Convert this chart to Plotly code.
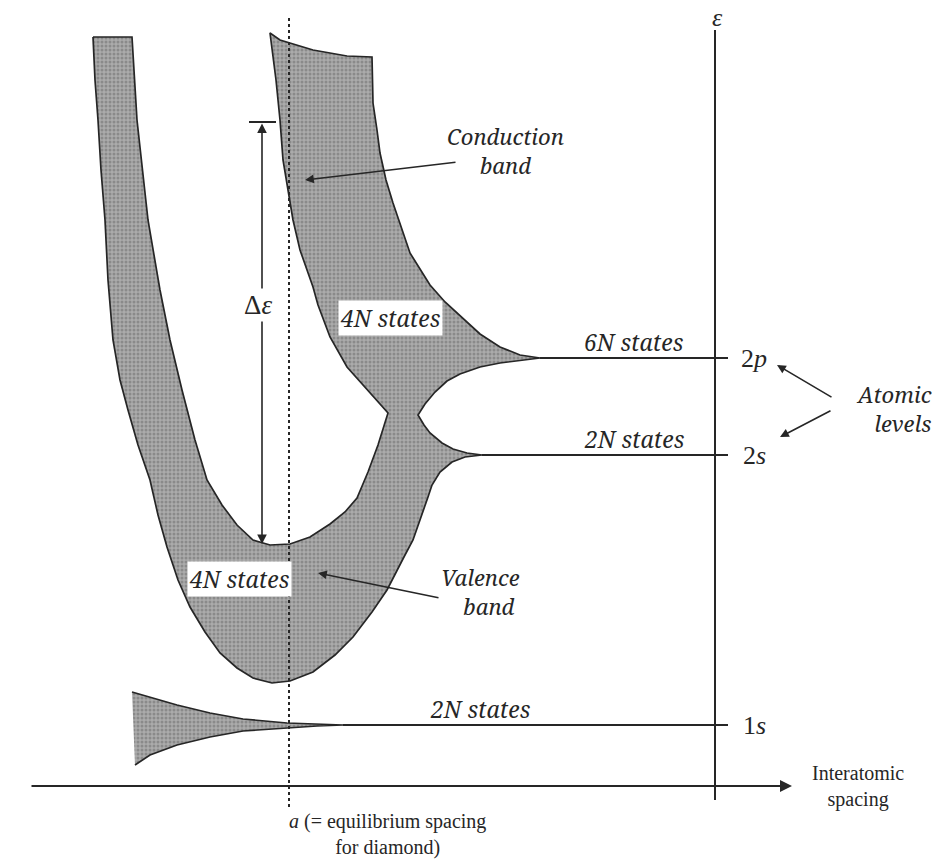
import plotly.graph_objects as go

# ---------------- data (schematic outline points) -------------
# Combined valence + conduction band outline, split into named boundary segments
strip_top_x = [93, 132]
strip_top_y = [37, 37]

inner_u_x = [132, 137, 148, 160, 170, 182, 195, 207, 222, 237, 253, 270, 290, 310, 330, 345, 357, 368, 378, 388]
inner_u_y = [37, 120, 220, 290, 340, 390, 440, 480, 505, 525, 540, 545, 544, 537, 524, 512, 498, 472, 445, 413]

cond_left_x = [388, 370, 347, 330, 318, 313, 300, 293, 286, 283, 280, 276, 270]
cond_left_y = [413, 393, 367, 337, 305, 287, 250, 220, 180, 160, 120, 80, 33]

cond_top_x = [270, 280, 313, 347, 372]
cond_top_y = [33, 40, 50, 56, 57]

cond_right_x = [372, 373, 377, 380, 386, 393, 410, 430, 445, 457, 480, 500, 520, 540]
cond_right_y = [57, 103, 130, 153, 180, 203, 253, 285, 302, 313, 334, 347, 355, 358]

p_lower_x = [540, 523, 500, 480, 460, 447, 435, 425, 418]
p_lower_y = [358, 360, 363, 367, 374, 381, 392, 404, 415]

s_upper_x = [418, 424, 430, 442, 453, 467, 482]
s_upper_y = [415, 425, 433, 443, 449, 453, 455]

valence_outer_x = [482, 465, 452, 440, 432, 428, 420, 413, 405, 395, 387, 372, 353, 335, 313, 290, 272,
                   253, 237, 220, 205, 190, 178, 167, 158, 150, 138, 128, 120, 113, 108, 105, 101, 98, 95, 93]
valence_outer_y = [455, 457, 462, 472, 485, 497, 520, 540, 555, 575, 590, 612, 637, 655, 672, 681, 683,
                   678, 668, 653, 632, 607, 580, 547, 515, 480, 445, 410, 380, 340, 280, 220, 170, 120, 80, 37]

# 1s band
s1_upper_x = [132, 150, 177, 210, 243, 287, 343]
s1_upper_y = [692, 697, 705, 713, 719, 723, 725]
s1_lower_x = [343, 317, 287, 243, 210, 177, 150, 135]
s1_lower_y = [725, 726, 728, 731, 737, 745, 755, 765]

# atomic levels (energy positions) and line extents
level_names = ["2<i>p</i>", "2<i>s</i>", "1<i>s</i>"]
level_y = [358, 455, 725]
level_x_start = [540, 482, 343]
level_x_end = [728, 728, 728]
level_states = ["<i>6N states</i>", "<i>2N states</i>", "<i>2N states</i>"]
level_states_x = [634, 634, 480]

# axes
energy_axis_x = 715
energy_axis_y = [30, 800]
spacing_axis_y = 786
spacing_axis_x = [30, 792]
equilibrium_a = 289

# band gap marker
gap_x = 262
gap_top = 122
gap_bottom = 544

# ---------------- figure -------------
W, H = 938, 864
ink = "#262626"
fig = go.Figure()

band_x = (strip_top_x + inner_u_x[1:] + cond_left_x[1:] + cond_top_x[1:] + cond_right_x[1:]
          + p_lower_x[1:] + s_upper_x[1:] + valence_outer_x[1:])
band_y = (strip_top_y + inner_u_y[1:] + cond_left_y[1:] + cond_top_y[1:] + cond_right_y[1:]
          + p_lower_y[1:] + s_upper_y[1:] + valence_outer_y[1:])

pattern = dict(shape=".", bgcolor="#ababab", fgcolor="#6a6a6a", size=4, solidity=0.45)

fig.add_trace(go.Scatter(x=band_x, y=band_y, mode="lines", fill="toself",
                         fillcolor="#a0a0a0", fillpattern=pattern,
                         line=dict(color=ink, width=1.7), hoverinfo="skip"))

fig.add_trace(go.Scatter(x=s1_upper_x + s1_lower_x[1:], y=s1_upper_y + s1_lower_y[1:],
                         mode="lines", fill="toself", fillcolor="#a0a0a0", fillpattern=pattern,
                         line=dict(color=ink, width=1.7), hoverinfo="skip"))

# level lines
for xs, xe, yv in zip(level_x_start, level_x_end, level_y):
    fig.add_trace(go.Scatter(x=[xs, xe], y=[yv, yv], mode="lines",
                             line=dict(color=ink, width=2), hoverinfo="skip"))

# energy axis
fig.add_trace(go.Scatter(x=[energy_axis_x, energy_axis_x], y=energy_axis_y, mode="lines",
                         line=dict(color=ink, width=2), hoverinfo="skip"))

# equilibrium spacing dotted line
fig.add_trace(go.Scatter(x=[equilibrium_a, equilibrium_a], y=[18, 808], mode="lines",
                         line=dict(color=ink, width=2, dash="dot"), hoverinfo="skip"))

# gap top bar
fig.add_trace(go.Scatter(x=[gap_x - 13, gap_x + 14], y=[gap_top, gap_top], mode="lines",
                         line=dict(color=ink, width=2), hoverinfo="skip"))

serif = "Liberation Serif"
ital = "Noto Serif"
ann = []

def arrow(tx, ty, sx, sy, width=1.6, size=1.1, head=2, side="end"):
    ann.append(dict(x=tx, y=ty, ax=sx, ay=sy, xref="x", yref="y", axref="x", ayref="y",
                    text="", showarrow=True, arrowhead=head, arrowsize=size,
                    arrowwidth=width, arrowcolor=ink, arrowside=side, startarrowhead=head,
                    startarrowsize=size))

def label(x, y, text, size=24, bg=None, xanchor="center", align="center", family=ital):
    d = dict(x=x, y=y, xref="x", yref="y", text=text, showarrow=False,
             font=dict(family=family, size=size, color=ink), xanchor=xanchor, yanchor="middle",
             align=align)
    if bg:
        d.update(bgcolor=bg, borderpad=1)
    ann.append(d)

# spacing axis arrow
arrow(spacing_axis_x[1], spacing_axis_y, spacing_axis_x[0], spacing_axis_y, width=2, size=1.2)
# band gap double arrow
arrow(gap_x, gap_bottom, gap_x, gap_top, width=1.6, size=1.2, side="end+start")
# conduction / valence arrows
arrow(305, 180, 457, 162)
arrow(318, 573, 440, 598)
# atomic level arrows
arrow(777, 365, 833, 398)
arrow(780, 437, 832, 410)

# labels
label(gap_x - 4, 305, "Δ<i>ε</i>", size=27, bg="white", family=serif)
label(505, 150, "<i>Conduction</i><br><i>band</i>", size=22)
label(390, 318, "<i>4N states</i>", size=23, bg="white")
label(239, 579, "<i>4N states</i>", size=23, bg="white")
label(480, 591, "<i>Valence</i><br>   <i>band</i>", size=22)
for nm, yv in zip(level_names, level_y):
    label(754, yv, nm, size=26, family=serif)
for st, sx, yv in zip(level_states, level_states_x, level_y):
    label(sx, yv - 16, st, size=23)
label(934, 408, "<i>Atomic</i><br><i>levels</i>", size=22, xanchor="right", align="right")
label(717, 17, "<i>ε</i>", size=26, family=serif)
label(858, 786, "Interatomic<br>spacing", size=20, family=serif)
label(387, 834, "<i>a</i> (= equilibrium spacing<br>for diamond)", size=20, family=serif)

fig.update_layout(
    width=W, height=H, margin=dict(l=0, r=0, t=0, b=0),
    paper_bgcolor="white", plot_bgcolor="white", showlegend=False,
    xaxis=dict(range=[0, W], visible=False, fixedrange=True),
    yaxis=dict(range=[H, 0], visible=False, fixedrange=True),
    annotations=ann,
)

fig.write_html("out.html", post_script="document.body.style.margin='0';",
               config={"displayModeBar": False})
